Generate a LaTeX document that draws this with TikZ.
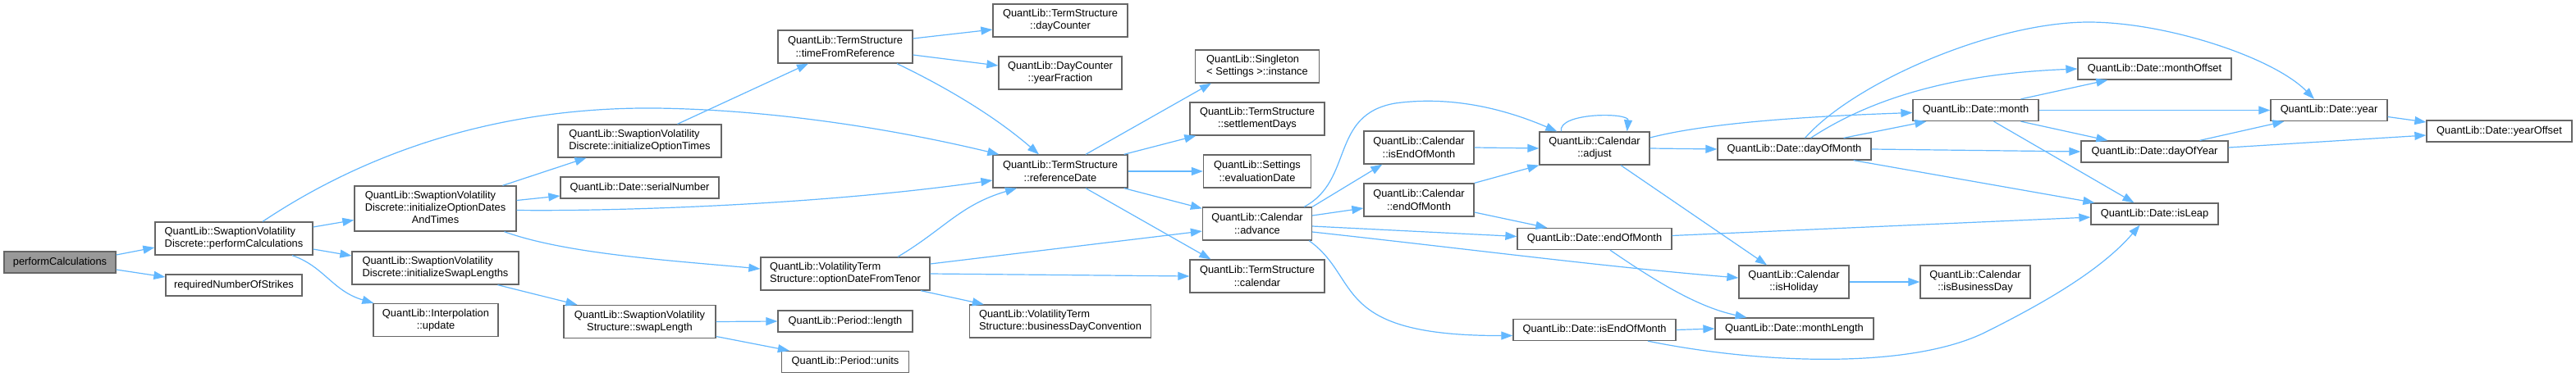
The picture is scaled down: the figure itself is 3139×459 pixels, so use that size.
\documentclass[tikz,border=0pt]{standalone}
\usepackage{fontspec}
\setmainfont{Liberation Sans}
\usetikzlibrary{arrows.meta}
\definecolor{edgeBlue}{HTML}{63B8FF}
\definecolor{boxLine}{HTML}{666666}
\definecolor{rootGray}{HTML}{999999}
\tikzset{
    fnbox/.style={draw=boxLine,fill=white,line width=1.3pt,inner sep=2pt,
        align=center,minimum height=40pt,font=\fontsize{12.85}{15.3}\selectfont},
    fnline/.style={fnbox,minimum height=26pt},
    fnleft/.style={fnbox,align=left},
    rootbox/.style={fnline,fill=rootGray},
    callarrow/.style={-{Triangle[length=14pt,width=10pt]},draw=edgeBlue,line width=1.2pt}
}
\begin{document}
\begin{tikzpicture}[x=1pt,y=-1pt]
    \useasboundingbox[fill=white] (0,0) rectangle (3139,459);
    \node[rootbox,minimum width=136pt] (perf) at (73,320) {performCalculations};
    \node[fnleft,minimum width=192pt] (svdPerf) at (285,291) {QuantLib::SwaptionVolatility\\Discrete::performCalculations};
    \node[fnline,minimum width=166pt] (reqStrikes) at (285,348) {requiredNumberOfStrikes};
    \node[fnbox,minimum width=197pt,minimum height=55pt] (initODT) at (530.5,254.5) {\begin{tabular}{@{}l@{}}QuantLib::SwaptionVolatility\\Discrete::initializeOptionDates\\\multicolumn{1}{@{}c@{}}{AndTimes}\end{tabular}};
    \node[fnleft,minimum width=203pt] (initSL) at (530.5,327) {QuantLib::SwaptionVolatility\\Discrete::initializeSwapLengths};
    \node[fnbox,minimum width=152pt] (interpUpdate) at (531,390.5) {QuantLib::Interpolation\\::update};
    \node[fnleft,minimum width=199pt] (initOT) at (779.5,172) {QuantLib::SwaptionVolatility\\Discrete::initializeOptionTimes};
    \node[fnline,minimum width=193pt] (serialNumber) at (779.5,229) {QuantLib::Date::serialNumber};
    \node[fnbox,minimum width=185pt] (swapLength) at (779.5,392.5) {QuantLib::SwaptionVolatility\\Structure::swapLength};
    \node[fnbox,minimum width=164pt] (timeFromRef) at (1030,57) {QuantLib::TermStructure\\::timeFromReference};
    \node[fnleft,minimum width=206pt] (optDate) at (1030,334) {QuantLib::VolatilityTerm\\Structure::optionDateFromTenor};
    \node[fnline,minimum width=164pt] (periodLength) at (1030,392) {QuantLib::Period::length};
    \node[fnline,minimum width=155pt] (periodUnits) at (1030,441.5) {QuantLib::Period::units};
    \node[fnbox,minimum width=164pt] (dayCounter) at (1292,25) {QuantLib::TermStructure\\::dayCounter};
    \node[fnbox,minimum width=150pt] (yearFraction) at (1292,89) {QuantLib::DayCounter\\::yearFraction};
    \node[fnbox,minimum width=164pt] (refDate) at (1292,209) {QuantLib::TermStructure\\::referenceDate};
    \node[fnleft,minimum width=221pt] (busDayConv) at (1292,392) {QuantLib::VolatilityTerm\\Structure::businessDayConvention};
    \node[fnleft,minimum width=151pt] (singleton) at (1532,81) {QuantLib::Singleton\\< Settings >::instance};
    \node[fnbox,minimum width=164pt] (settlementDays) at (1532,145) {QuantLib::TermStructure\\::settlementDays};
    \node[fnbox,minimum width=131pt] (evalDate) at (1532,209) {QuantLib::Settings\\::evaluationDate};
    \node[fnbox,minimum width=133pt] (advance) at (1532,273) {QuantLib::Calendar\\::advance};
    \node[fnbox,minimum width=164pt] (tsCalendar) at (1532,337) {QuantLib::TermStructure\\::calendar};
    \node[fnbox,minimum width=134pt] (calIsEom) at (1729,180) {QuantLib::Calendar\\::isEndOfMonth};
    \node[fnbox,minimum width=134pt] (calEom) at (1729,244) {QuantLib::Calendar\\::endOfMonth};
    \node[fnbox,minimum width=134pt] (adjust) at (1943,181) {QuantLib::Calendar\\::adjust};
    \node[fnline,minimum width=188pt] (dateEom) at (1943,291.5) {QuantLib::Date::endOfMonth};
    \node[fnline,minimum width=198pt] (dateIsEom) at (1943,402.5) {QuantLib::Date::isEndOfMonth};
    \node[fnline,minimum width=187pt] (dayOfMonth) at (2186.5,182) {QuantLib::Date::dayOfMonth};
    \node[fnbox,minimum width=134pt] (isHoliday) at (2186,344) {QuantLib::Calendar\\::isHoliday};
    \node[fnline,minimum width=193pt] (monthLength) at (2186.5,401) {QuantLib::Date::monthLength};
    \node[fnline,minimum width=153pt] (month) at (2407.5,134.5) {QuantLib::Date::month};
    \node[fnbox,minimum width=134pt] (isBusDay) at (2407,344) {QuantLib::Calendar\\::isBusinessDay};
    \node[fnline,minimum width=187pt] (monthOffset) at (2625.5,84) {QuantLib::Date::monthOffset};
    \node[fnline,minimum width=179pt] (dayOfYear) at (2625.5,185) {QuantLib::Date::dayOfYear};
    \node[fnline,minimum width=155pt] (isLeap) at (2625.5,261) {QuantLib::Date::isLeap};
    \node[fnline,minimum width=142pt] (year) at (2838,134.5) {QuantLib::Date::year};
    \node[fnline,minimum width=177pt] (yearOffset) at (3045.5,160) {QuantLib::Date::yearOffset};
    \draw[callarrow] ([yshift=9pt]perf.east) -- ([yshift=-11pt]svdPerf.west);
    \draw[callarrow] ([yshift=-9pt]perf.east) -- ([yshift=10pt]reqStrikes.west);
    \draw[callarrow] ([yshift=14pt]svdPerf.east) -- ([yshift=-14pt]initODT.west);
    \draw[callarrow] ([yshift=-13pt]svdPerf.east) -- ([yshift=15pt]initSL.west);
    \draw[callarrow] ([xshift=71pt]svdPerf.south) .. controls (395,325) and (405,355) .. ([xshift=1pt]interpUpdate.north west);
    \draw[callarrow] ([xshift=35pt]svdPerf.north) .. controls (440,190) and (600,130) .. (800,132) .. controls (950,134) and (1100,160) .. ([xshift=8pt]refDate.north west);
    \draw[callarrow] ([xshift=82pt]initODT.north) -- ([xshift=-65pt]initOT.south);
    \draw[callarrow] ([yshift=10pt]initODT.east) -- ([yshift=-10pt]serialNumber.west);
    \draw[callarrow] ([yshift=-2pt]initODT.east) .. controls (750,258) and (1000,250) .. ([yshift=-11pt]refDate.west);
    \draw[callarrow] ([xshift=84pt]initODT.south) .. controls (690,310) and (820,318) .. ([yshift=6pt]optDate.west);
    \draw[callarrow] ([xshift=76pt]initSL.south) -- ([xshift=-76pt]swapLength.north);
    \draw[callarrow] ([xshift=46pt]initOT.north) -- ([xshift=-45pt]timeFromRef.south);
    \draw[callarrow] ([yshift=10pt]timeFromRef.east) -- ([yshift=-11pt]dayCounter.west);
    \draw[callarrow] ([yshift=-10pt]timeFromRef.east) -- ([yshift=9pt]yearFraction.west);
    \draw[callarrow] ([xshift=63pt]timeFromRef.south) .. controls (1150,105) and (1210,140) .. ([xshift=-26pt]refDate.north);
    \draw[callarrow] (swapLength.east) -- (periodLength.west);
    \draw[callarrow] ([yshift=-18pt]swapLength.east) -- ([xshift=10pt]periodUnits.north west);
    \draw[callarrow] ([xshift=64pt]optDate.north) .. controls (1150,280) and (1170,250) .. ([xshift=-53pt]refDate.south);
    \draw[callarrow] ([yshift=12pt]optDate.east) -- ([yshift=-9pt]advance.west);
    \draw[callarrow] (optDate.east) -- (tsCalendar.west);
    \draw[callarrow] ([xshift=92pt]optDate.south) -- ([xshift=18pt]busDayConv.north west);
    \draw[callarrow] ([xshift=31pt]refDate.north) -- ([xshift=-56pt]singleton.south);
    \draw[callarrow] ([xshift=-5pt]refDate.north east) -- ([xshift=8pt]settlementDays.south west);
    \draw[callarrow] (refDate.east) -- (evalDate.west);
    \draw[callarrow] ([xshift=-5pt]refDate.south east) -- ([yshift=-2pt]advance.north west);
    \draw[callarrow] ([xshift=31pt]refDate.south) -- ([xshift=26pt]tsCalendar.north west);
    \draw[callarrow] ([xshift=-10pt]advance.north east) .. controls (1650,220) and (1620,140) .. (1700,126) .. controls (1780,115) and (1850,140) .. ([xshift=22pt]adjust.north west);
    \draw[callarrow] (advance.north east) -- ([xshift=23pt]calIsEom.south west);
    \draw[callarrow] ([yshift=10pt]advance.east) -- ([yshift=-10pt]calEom.west);
    \draw[callarrow] ([yshift=-3pt]advance.east) -- ([yshift=3pt]dateEom.west);
    \draw[callarrow] ([yshift=-10pt]advance.east) .. controls (1800,305) and (1950,325) .. ([yshift=5pt]isHoliday.west);
    \draw[callarrow] ([xshift=-4pt]advance.south east) .. controls (1660,340) and (1620,410) .. ([yshift=-7pt]dateIsEom.west);
    \draw[callarrow] (calIsEom.east) -- (adjust.west);
    \draw[callarrow] (calEom.north east) -- (adjust.south west);
    \draw[callarrow] ([yshift=-15pt]calEom.east) -- ([xshift=37pt]dateEom.north west);
    \draw[callarrow] ([xshift=27pt]adjust.north west) .. controls (1898,137) and (1985,137) .. ([xshift=-28pt]adjust.north east);
    \draw[callarrow] (adjust.east) -- (dayOfMonth.west);
    \draw[callarrow] ([yshift=13pt]adjust.east) .. controls (2080,150) and (2200,142) .. ([yshift=-3pt]month.west);
    \draw[callarrow] ([xshift=32pt]adjust.south) -- ([xshift=-33pt]isHoliday.north);
    \draw[callarrow] ([yshift=4pt]dateEom.east) -- ([yshift=-4pt]isLeap.west);
    \draw[callarrow] ([xshift=19pt]dateEom.south) .. controls (2020,345) and (2070,375) .. ([xshift=-58pt]monthLength.north);
    \draw[callarrow] (dateIsEom.east) -- (monthLength.west);
    \draw[callarrow] ([xshift=65pt]dateIsEom.south) .. controls (2150,445) and (2330,450) .. (2420,405) .. controls (2490,370) and (2560,330) .. ([xshift=-18pt]isLeap.south);
    \draw[callarrow] (isHoliday.east) -- (isBusDay.west);
    \draw[callarrow] ([xshift=60pt]dayOfMonth.north) -- ([xshift=17pt]month.south west);
    \draw[callarrow] ([xshift=13pt]dayOfMonth.north) .. controls (2260,100) and (2430,27) .. (2545,27) .. controls (2640,27) and (2770,70) .. ([xshift=-18pt]year.north);
    \draw[callarrow] ([xshift=20pt]dayOfMonth.north) .. controls (2280,120) and (2380,90) .. (monthOffset.west);
    \draw[callarrow] (dayOfMonth.east) -- (dayOfYear.west);
    \draw[callarrow] ([xshift=-22pt]dayOfMonth.south east) -- ([xshift=5pt]isLeap.north west);
    \draw[callarrow] ([xshift=55pt]month.north) -- ([xshift=37pt]monthOffset.south west);
    \draw[callarrow] (month.east) -- (year.west);
    \draw[callarrow] ([xshift=55pt]month.south) -- ([xshift=33pt]dayOfYear.north west);
    \draw[callarrow] ([xshift=22pt]month.south) -- ([xshift=-25pt]isLeap.north);
    \draw[callarrow] ([xshift=55pt]dayOfYear.north) -- ([xshift=17pt]year.south west);
    \draw[callarrow] ([yshift=5pt]dayOfYear.east) -- ([yshift=-5pt]yearOffset.west);
    \draw[callarrow] ([yshift=-8pt]year.east) -- ([yshift=11pt]yearOffset.west);
\end{tikzpicture}
\end{document}
